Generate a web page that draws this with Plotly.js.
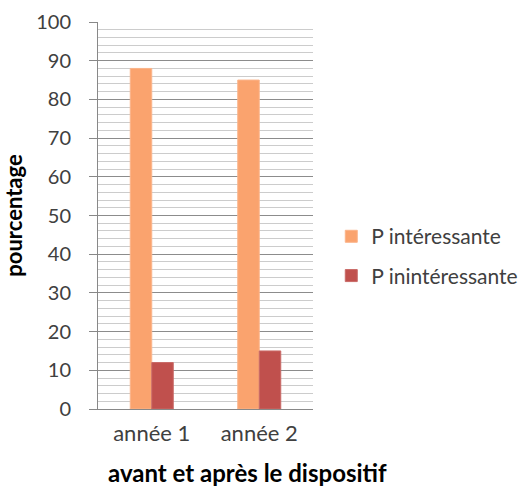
<!DOCTYPE html>
<html>
<head>
<meta charset="utf-8">
<script src="https://cdn.plot.ly/plotly-3.0.1.min.js"></script>
<style>html,body{margin:0;padding:0;background:#fff;}#chart{width:528px;height:486px;}</style>
</head>
<body>
<div id="chart"></div>
<script>
var categories = ["année 1", "année 2"];
var seriesNames = ["P intéressante", "P inintéressante"];
var interessante = [88, 85];
var inintéressante = [12, 15];
var yTicks = [0, 10, 20, 30, 40, 50, 60, 70, 80, 90, 100];
var xTitle = "avant et après le dispositif";
var yTitle = "pourcentage";

var font = "Lato, 'Open Sans', sans-serif";
var data = [
  {type: "bar", x: categories, y: interessante, name: seriesNames[0], legendgroup: "a",
   marker: {color: "#FAA36E", line: {color: "#FBB48A", width: 1}}},
  {type: "bar", x: categories, y: inintéressante, name: seriesNames[1], legendgroup: "b",
   marker: {color: "#C0504D", line: {color: "#C96A67", width: 1}}}
];
var layout = {
  width: 528, height: 486,
  margin: {l: 98, r: 215, t: 22, b: 77, autoexpand: false},
  paper_bgcolor: "#fff", plot_bgcolor: "#fff",
  barmode: "group", bargap: 0.6, bargroupgap: 0,
  font: {family: font, color: "#404040"},
  showlegend: true,
  legend: {x: 1.085, y: 0.395, xanchor: "left", yanchor: "middle",
           font: {size: 21, color: "#404040", family: font}, tracegroupgap: 9},
  xaxis: {
    showline: true, linecolor: "#888", linewidth: 1,
    ticks: "", tickfont: {size: 22, color: "#404040"}, ticklabelstandoff: 5
  },
  yaxis: {
    range: [0, 100], tickvals: yTicks, ticktext: yTicks.map(String),
    showline: true, linecolor: "#888", linewidth: 1,
    ticks: "outside", ticklen: 8, tickcolor: "#888",
    showgrid: true, gridcolor: "#8c8c8c", gridwidth: 1,
    zeroline: false, ticklabelstandoff: 14,
    minor: {dtick: 2, showgrid: true, gridcolor: "#cccccc", gridwidth: 1, ticks: ""},
    tickfont: {size: 20, color: "#404040"},
    title: {text: "<b>" + yTitle + "</b>", font: {size: 22, color: "#000"}, standoff: 18}
  },
  annotations: [
    {text: "<b>" + xTitle + "</b>", xref: "paper", yref: "paper",
     x: (247 - 98) / 215, y: -0.165, xanchor: "center", yanchor: "middle",
     showarrow: false, font: {size: 24, color: "#000", family: font}}
  ]
};
Plotly.newPlot("chart", data, layout, {displayModeBar: false, staticPlot: true});
</script>
</body>
</html>
